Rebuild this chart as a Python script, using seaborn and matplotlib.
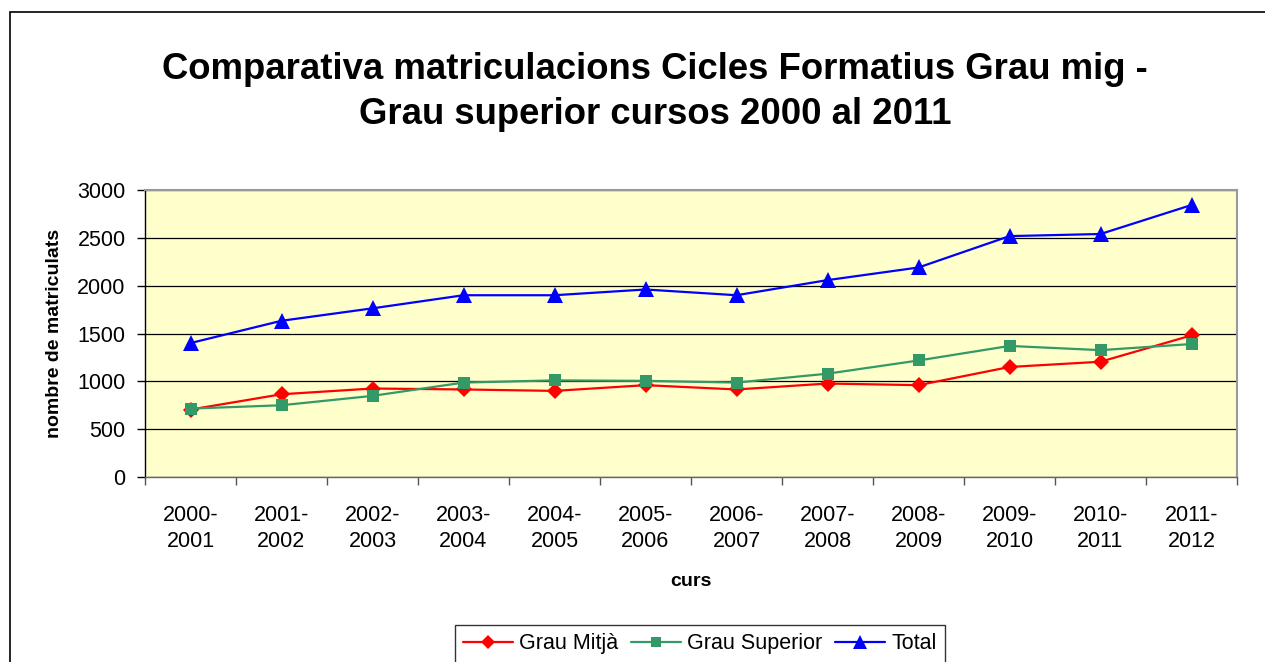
import pandas as pd
import matplotlib
matplotlib.use("Agg")
import matplotlib.pyplot as plt
import seaborn as sns
from matplotlib.patches import Rectangle
from matplotlib.ticker import FixedLocator

# values
cursos = ["2000-\n2001", "2001-\n2002", "2002-\n2003", "2003-\n2004", "2004-\n2005", "2005-\n2006",
          "2006-\n2007", "2007-\n2008", "2008-\n2009", "2009-\n2010", "2010-\n2011", "2011-\n2012"]
grau_mitja = [705, 865, 925, 915, 900, 960, 915, 977, 960, 1150, 1205, 1480]
grau_superior = [715, 750, 848, 987, 1010, 1005, 987, 1080, 1218, 1370, 1326, 1390]
total = [1400, 1633, 1763, 1900, 1900, 1960, 1900, 2058, 2190, 2518, 2540, 2843]

series = ["Grau Mitjà", "Grau Superior", "Total"]
colors = {"Grau Mitjà": "#FF0000", "Grau Superior": "#339966", "Total": "#0000FF"}
markers = {"Grau Mitjà": "D", "Grau Superior": "s", "Total": "^"}

df = pd.DataFrame({
    "curs": cursos * 3,
    "matriculats": grau_mitja + grau_superior + total,
    "serie": ["Grau Mitjà"] * 12 + ["Grau Superior"] * 12 + ["Total"] * 12,
})

sns.set_style("white")
plt.rcParams["font.family"] = ["Liberation Sans", "DejaVu Sans"]
plt.rcParams["text.color"] = "black"
plt.rcParams["axes.labelcolor"] = "black"
plt.rcParams["xtick.color"] = "black"
plt.rcParams["ytick.color"] = "black"

fig = plt.figure(figsize=(12.65, 6.62), dpi=100)
ax = fig.add_axes([145 / 1265, 1 - 477 / 662, (1237 - 145) / 1265, (477 - 190) / 662])
ax.set_facecolor("#FFFFCC")

sns.lineplot(data=df, x="curs", y="matriculats", hue="serie", style="serie",
             hue_order=series, style_order=series, palette=colors, markers=markers,
             dashes=False, sort=False, linewidth=1.6, markersize=12,
             markeredgewidth=0, ax=ax, legend=True)

# square / diamond a bit smaller than the triangle
for line in ax.lines:
    if line.get_marker() == "s":
        line.set_markersize(9)
    elif line.get_marker() == "D":
        line.set_markersize(8.5)

ax.set_xlim(-0.5, len(cursos) - 0.5)
ax.set_ylim(0, 3000)
ax.set_yticks(range(0, 3001, 500))
ax.yaxis.grid(True, color="black", linewidth=0.9)
ax.set_axisbelow(True)

ax.xaxis.set_minor_locator(FixedLocator([i - 0.5 for i in range(len(cursos) + 1)]))
ax.tick_params(axis="x", which="major", length=0, pad=20, labelsize=15.5)
ax.tick_params(axis="x", which="minor", length=6, width=1, color="#555555", bottom=True)
ax.tick_params(axis="y", which="major", length=6, width=1, color="black", left=True, pad=8, labelsize=15.5)
for lbl in ax.get_xticklabels():
    lbl.set_linespacing(1.35)

for side in ["top", "right"]:
    ax.spines[side].set_color("#999999")
    ax.spines[side].set_linewidth(1.5)
ax.spines["left"].set_color("black")
ax.spines["left"].set_linewidth(1)
ax.spines["bottom"].set_color("#666666")
ax.spines["bottom"].set_linewidth(1)

ax.set_xlabel("curs", fontsize=14, fontweight="bold", labelpad=15)
ax.set_ylabel("nombre de matriculats", fontsize=14, fontweight="bold", labelpad=10)

fig.text(655 / 1265, 1 - 92 / 662,
         "Comparativa matriculacions Cicles Formatius Grau mig -\nGrau superior cursos 2000 al 2011",
         ha="center", va="center", fontsize=26.3, fontweight="bold", linespacing=1.4)

handles, labels = ax.get_legend_handles_labels()
ax.get_legend().remove()
leg = fig.legend(handles, labels, loc="upper center", bbox_to_anchor=(700 / 1265, 1 - 614 / 662),
                 ncol=3, frameon=True, fancybox=False, fontsize=15.5, handlelength=2.3,
                 handletextpad=0.3, columnspacing=0.6, borderpad=0.4, markerscale=0.8)
leg.get_frame().set_edgecolor("black")
leg.get_frame().set_linewidth(1)

# outer chart border (only top and left visible in the original)
fig.patches.append(Rectangle((10 / 1265, -0.2), 1.2, 1.2 - 12 / 662, transform=fig.transFigure,
                             fill=False, edgecolor="black", linewidth=1.2, zorder=0))

fig.savefig("out.png", dpi=100)
